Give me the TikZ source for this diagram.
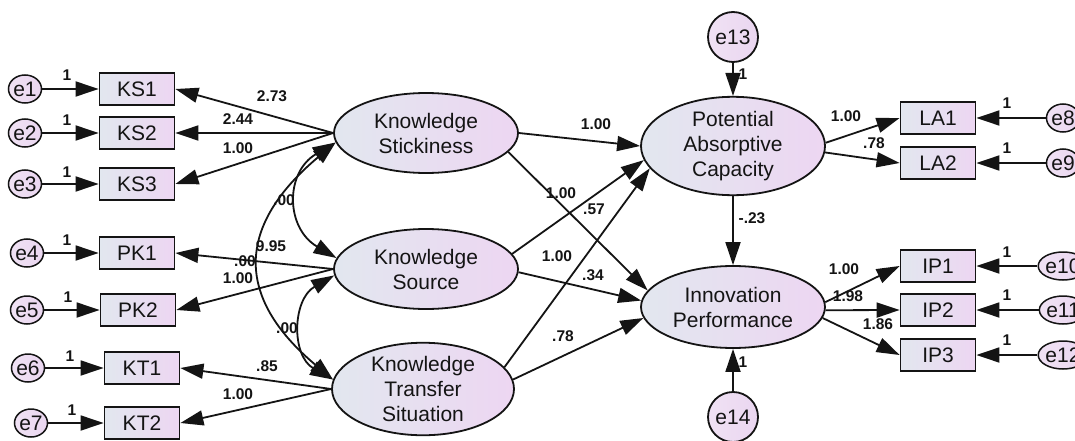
\documentclass[tikz,border=0pt]{standalone}
\usepackage{fontspec}
\setmainfont{Liberation Sans}
\usetikzlibrary{arrows.meta,shapes.geometric}
\definecolor{cl}{RGB}{226,231,239}
\definecolor{cr}{RGB}{237,214,242}
\definecolor{el}{RGB}{240,226,244}
\definecolor{er}{RGB}{234,214,240}
\definecolor{ln}{RGB}{20,20,20}
\begin{document}
\begin{tikzpicture}[x=1pt,y=-1pt,
  every node/.style={inner sep=0pt,text=ln},
  lat/.style={ellipse,draw=ln,line width=1.8pt,left color=cl,right color=cr,align=center,
    font=\fontsize{21}{25}\selectfont,minimum width=184pt,minimum height=80pt},
  obs/.style={rectangle,draw=ln,line width=1.8pt,left color=cl,right color=cr,
    font=\fontsize{21}{25}\selectfont,minimum width=75pt,minimum height=32pt},
  err/.style={ellipse,draw=ln,line width=1.5pt,left color=el,right color=er,
    font=\fontsize{21}{25}\selectfont,minimum width=32pt,minimum height=28pt},
  bigerr/.style={circle,draw=ln,line width=1.8pt,left color=el,right color=er,
    font=\fontsize{21}{25}\selectfont,minimum size=50pt},
  lbl/.style={font=\bfseries\fontsize{15.5}{18}\selectfont},
  arr/.style={draw=ln,line width=1.8pt,-{Triangle[length=23pt,width=15pt]}},
  bi/.style={draw=ln,line width=1.8pt,{Triangle[length=23pt,width=15pt]}-{Triangle[length=23pt,width=15pt]}},
]
\clip (0,0) rectangle (1075,441);
\fill[white] (0,0) rectangle (1075,441);

% error terms left
\node[err] (e1) at (25,89) {e1};
\node[err] (e2) at (25,133) {e2};
\node[err] (e3) at (25,184) {e3};
\node[err] (e4) at (27,253) {e4};
\node[err] (e5) at (27,310) {e5};
\node[err] (e6) at (28,368) {e6};
\node[err] (e7) at (31,423) {e7};

% indicators left
\node[obs] (KS1) at (137,89) {KS1};
\node[obs] (KS2) at (137,133) {KS2};
\node[obs] (KS3) at (137,184) {KS3};
\node[obs] (PK1) at (137,253) {PK1};
\node[obs] (PK2) at (138,310) {PK2};
\node[obs] (KT1) at (142,368) {KT1};
\node[obs] (KT2) at (142,423) {KT2};

% latent variables
\node[lat] (KS) at (426,133) {Knowledge\\Stickiness};
\node[lat] (KSo) at (426,269) {Knowledge\\Source};
\node[lat,minimum width=182pt,minimum height=86pt] (KTS) at (423,389) {Knowledge\\Transfer\\Situation};
\node[lat,minimum height=82pt] (PAC) at (733,146) {Potential\\Absorptive\\Capacity};
\node[lat,minimum height=82pt] (IP) at (733,307) {Innovation\\Performance};

\node[bigerr] (e13) at (733,37) {e13};
\node[bigerr] (e14) at (733,417) {e14};

% indicators right
\node[obs] (LA1) at (938,118) {LA1};
\node[obs] (LA2) at (938,163) {LA2};
\node[obs] (IP1) at (938,266) {IP1};
\node[obs] (IP2) at (938,310) {IP2};
\node[obs] (IP3) at (938,355) {IP3};

\node[err] (e8) at (1063,118) {e8};
\node[err] (e9) at (1063,163) {e9};
\node[err] (e10) at (1063,266) {e10};
\node[err] (e11) at (1063,310) {e11};
\node[err] (e12) at (1063,355) {e12};

% error arrows left
\draw[arr] (e1) -- (KS1);
\draw[arr] (e2) -- (KS2);
\draw[arr] (e3) -- (KS3);
\draw[arr] (e4) -- (PK1);
\draw[arr] (e5) -- (PK2);
\draw[arr] (e6) -- (KT1);
\draw[arr] (e7) -- (KT2);
\node[lbl] (o1) at (67,75) {1};
\node[lbl] (o2) at (67,120) {1};
\node[lbl] (o3) at (67,172) {1};
\node[lbl] (o4) at (67,240) {1};
\node[lbl] (o5) at (68,297) {1};
\node[lbl] (o6) at (70,356) {1};
\node[lbl] (o7) at (72,410) {1};

% loadings left
\draw[arr] (KS.west) -- (KS1.east);
\draw[arr] (KS.west) -- (KS2.east);
\draw[arr] (KS.west) -- (KS3.east);
\draw[arr] (KSo.west) -- (PK1.east);
\draw[arr] (KSo.west) -- (PK2.east);
\draw[arr] (KTS.west) -- (KT1.east);
\draw[arr] (KTS.west) -- (KT2.east);
\node[lbl] (w1) at (272,96) {2.73};
\node[lbl] (w2) at (238,119) {2.44};
\node[lbl] (w3) at (238,148) {1.00};
\node[lbl] (w4) at (245,261) {.00};
\node[lbl] (w5) at (238,278) {1.00};
\node[lbl] (w6) at (267,366) {.85};
\node[lbl] (w7) at (238,394) {1.00};

% covariances
\draw[bi] (KS.186) .. controls +(-51,30) and +(-51,-30) .. (KSo.173);
\draw[bi] (KS.186) .. controls +(-99,83) and +(-99,-83) .. (KTS.174);
\draw[bi] (KSo.184) .. controls +(-42,24) and +(-42,-24) .. (KTS.174);
\node[lbl] (c1) at (284,200) {.00};
\node[lbl] (c2) at (271,246) {9.95};
\node[lbl] (c3) at (287,328) {.00};

% structural paths
\draw[arr] (KS.east) -- (PAC.west);
\draw[arr] (KS.-13) -- (IP.169);
\draw[arr] (KSo.10) -- (PAC.-171);
\draw[arr] (KSo.-2) -- (IP.176);
\draw[arr] (KTS.15) -- (PAC.-165);
\draw[arr] (KTS.6) -- (IP.-173);
\draw[arr] (PAC) -- (IP);
\draw[arr] (e13) -- (PAC);
\draw[arr] (e14) -- (IP);
\node[lbl] (s1) at (596,124) {1.00};
\node[lbl] (s2) at (561,193) {1.00};
\node[lbl] (s3) at (594,209) {.57};
\node[lbl] (s4) at (557,256) {1.00};
\node[lbl] (s5) at (593,275) {.34};
\node[lbl] (s6) at (563,336) {.78};
\node[lbl] (s7) at (752,218) {-.23};
\node[lbl] (s8) at (743,74) {1};
\node[lbl] (s9) at (743,362) {1};

% loadings right
\draw[arr] (PAC.2) -- (LA1.west);
\draw[arr] (PAC.-4) -- (LA2.west);
\draw[arr] (IP.3) -- (IP1.west);
\draw[arr] (IP.-2) -- (IP2.west);
\draw[arr] (IP.-7) -- (IP3.west);
\node[lbl] (r1) at (846,116) {1.00};
\node[lbl] (r2) at (874,143) {.78};
\node[lbl] (r3) at (844,269) {1.00};
\node[lbl] (r4) at (848,296) {1.98};
\node[lbl] (r5) at (878,324) {1.86};

% error arrows right
\draw[arr] (e8) -- (LA1);
\draw[arr] (e9) -- (LA2);
\draw[arr] (e10) -- (IP1);
\draw[arr] (e11) -- (IP2);
\draw[arr] (e12) -- (IP3);
\node[lbl] (q1) at (1007,103) {1};
\node[lbl] (q2) at (1007,148) {1};
\node[lbl] (q3) at (1007,252) {1};
\node[lbl] (q4) at (1007,295) {1};
\node[lbl] (q5) at (1007,340) {1};
\end{tikzpicture}
\end{document}
